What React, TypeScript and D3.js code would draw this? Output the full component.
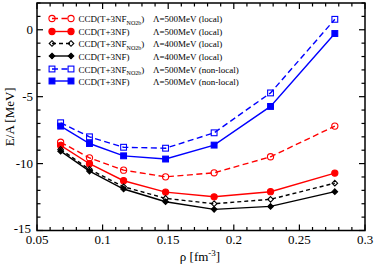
import React from "react";
import * as d3 from "d3";

const densities = [0.068, 0.09, 0.116, 0.148, 0.185, 0.228, 0.277];
const redNO2b = [-8.4, -9.57, -10.49, -10.99, -10.69, -9.49, -7.2];
const red3NF = [-8.64, -10.01, -11.28, -12.13, -12.48, -12.1, -10.71];
const blackNO2b = [-8.94, -10.43, -11.73, -12.6, -13.0, -12.67, -11.46];
const black3NF = [-9.07, -10.56, -11.9, -12.85, -13.42, -13.2, -12.1];
const blueNO2b = [-6.95, -8.0, -8.78, -8.85, -7.7, -4.72, 0.78];
const blue3NF = [-7.2, -8.5, -9.42, -9.66, -8.62, -5.73, -0.28];

const xTicks = [0.05, 0.1, 0.15, 0.2, 0.25, 0.3];
const yTicks = [-15, -10, -5, 0];

type Sym = "circle" | "diamond" | "square";
interface Series {
  values: number[];
  color: string;
  dashed: boolean;
  dash: string;
  open: boolean;
  sym: Sym;
  sub: boolean;
  lambda: string;
}

const series: Series[] = [
  { values: redNO2b, color: "#ff0000", dashed: true, dash: "6,3.5", open: true, sym: "circle", sub: true, lambda: "Λ=500MeV (local)" },
  { values: red3NF, color: "#ff0000", dashed: false, dash: "", open: false, sym: "circle", sub: false, lambda: "Λ=500MeV (local)" },
  { values: blackNO2b, color: "#000000", dashed: true, dash: "4,3", open: true, sym: "diamond", sub: true, lambda: "Λ=400MeV (local)" },
  { values: black3NF, color: "#000000", dashed: false, dash: "", open: false, sym: "diamond", sub: false, lambda: "Λ=400MeV (local)" },
  { values: blueNO2b, color: "#0000ff", dashed: true, dash: "6,3.5", open: true, sym: "square", sub: true, lambda: "Λ=500MeV (non-local)" },
  { values: blue3NF, color: "#0000ff", dashed: false, dash: "", open: false, sym: "square", sub: false, lambda: "Λ=500MeV (non-local)" },
];

const legendY = [18.5, 31.5, 43.5, 56, 69, 81];

const L = 37, R = 365, T = 3, B = 230.5;

function Marker({ s, x, y }: { s: Series; x: number; y: number }) {
  const fill = s.open ? "none" : s.color;
  const sw = 1.1;
  if (s.sym === "circle") return <circle cx={x} cy={y} r={3.1} fill={fill} stroke={s.color} strokeWidth={sw} />;
  if (s.sym === "square") return <rect x={x - 2.9} y={y - 2.9} width={5.8} height={5.8} fill={fill} stroke={s.color} strokeWidth={sw} />;
  const d = 2.8;
  return <path d={`M${x},${y - d}L${x + d},${y}L${x},${y + d}L${x - d},${y}Z`} fill={fill} stroke={s.color} strokeWidth={sw} />;
}

const FONT = "'Liberation Serif', 'Times New Roman', Times, 'DejaVu Serif', serif";

export default function App() {
  const x = d3.scaleLinear().domain([0.05, 0.3]).range([L, R]);
  const y = d3.scaleLinear().domain([-15, 2]).range([B, T]);
  const line = d3.line<number>().x((_, i) => x(densities[i])).y((v) => y(v));
  const xMinor = d3.range(0.05, 0.3001, 0.01);
  const yMinor = d3.range(-15, 2.001, 1);
  return (
    <svg width={374} height={266} style={{ position: "absolute", left: 0, top: 0, background: "#fff" }}>
      {xMinor.map((v, i) => {
        const major = xTicks.some((t) => Math.abs(t - v) < 1e-6);
        const len = major ? 6 : 3.5;
        return (
          <g key={"xm" + i} stroke="#000" strokeWidth={1.2}>
            <line x1={x(v)} x2={x(v)} y1={B} y2={B - len} />
            <line x1={x(v)} x2={x(v)} y1={T} y2={T + len} />
          </g>
        );
      })}
      {yMinor.map((v, i) => {
        const major = Math.abs(v % 5) < 1e-6;
        const len = major ? 6 : 3.5;
        return (
          <g key={"ym" + i} stroke="#000" strokeWidth={1.2}>
            <line x1={L} x2={L + len} y1={y(v)} y2={y(v)} />
            <line x1={R} x2={R - len} y1={y(v)} y2={y(v)} />
          </g>
        );
      })}
      <rect x={L} y={T} width={R - L} height={B - T} fill="none" stroke="#000" strokeWidth={1.5} />
      <g style={{ fontFamily: FONT }} fill="#000">
        {xTicks.map((t) => (
          <text key={"xt" + t} x={x(t)} y={243.5} fontSize={13} textAnchor="middle">{t}</text>
        ))}
        {yTicks.map((t) => (
          <text key={"yt" + t} x={t === -15 ? 31 : 33} y={y(t) + (t === -15 ? 2 : 4.5)} fontSize={13} textAnchor="end">{t}</text>
        ))}
        <text x={200} y={261} fontSize={13} textAnchor="middle">
          ρ [fm<tspan dy={-5} fontSize={9}>-3</tspan><tspan dy={5}>]</tspan>
        </text>
        <text transform={`translate(14,${(T + B) / 2}) rotate(-90)`} fontSize={13} textAnchor="middle">E/A [MeV]</text>
      </g>
      {series.map((s, k) => (
        <g key={"s" + k}>
          <path d={line(s.values) || ""} fill="none" stroke={s.color} strokeWidth={1.4} strokeDasharray={s.dashed ? s.dash : undefined} />
          {s.values.map((v, i) => (
            <Marker key={i} s={s} x={x(densities[i])} y={y(v)} />
          ))}
        </g>
      ))}
      {series.map((s, k) => {
        const ly = legendY[k];
        return (
          <g key={"l" + k}>
            <line x1={52} x2={71} y1={ly} y2={ly} stroke={s.color} strokeWidth={1.4} strokeDasharray={s.dashed ? s.dash : undefined} />
            <Marker s={s} x={52} y={ly} />
            <Marker s={s} x={71} y={ly} />
            <g style={{ fontFamily: FONT }}>
              <text x={78.5} y={ly + 3.5} fontSize={9}>
                {s.sub ? (
                  <>CCD(T+3NF<tspan dy={2.5} fontSize={6}>NO2b</tspan><tspan dy={-2.5}>)</tspan></>
                ) : (
                  "CCD(T+3NF)"
                )}
              </text>
              <text x={153} y={ly + 3.5} fontSize={9}>{s.lambda}</text>
            </g>
          </g>
        );
      })}
    </svg>
  );
}
